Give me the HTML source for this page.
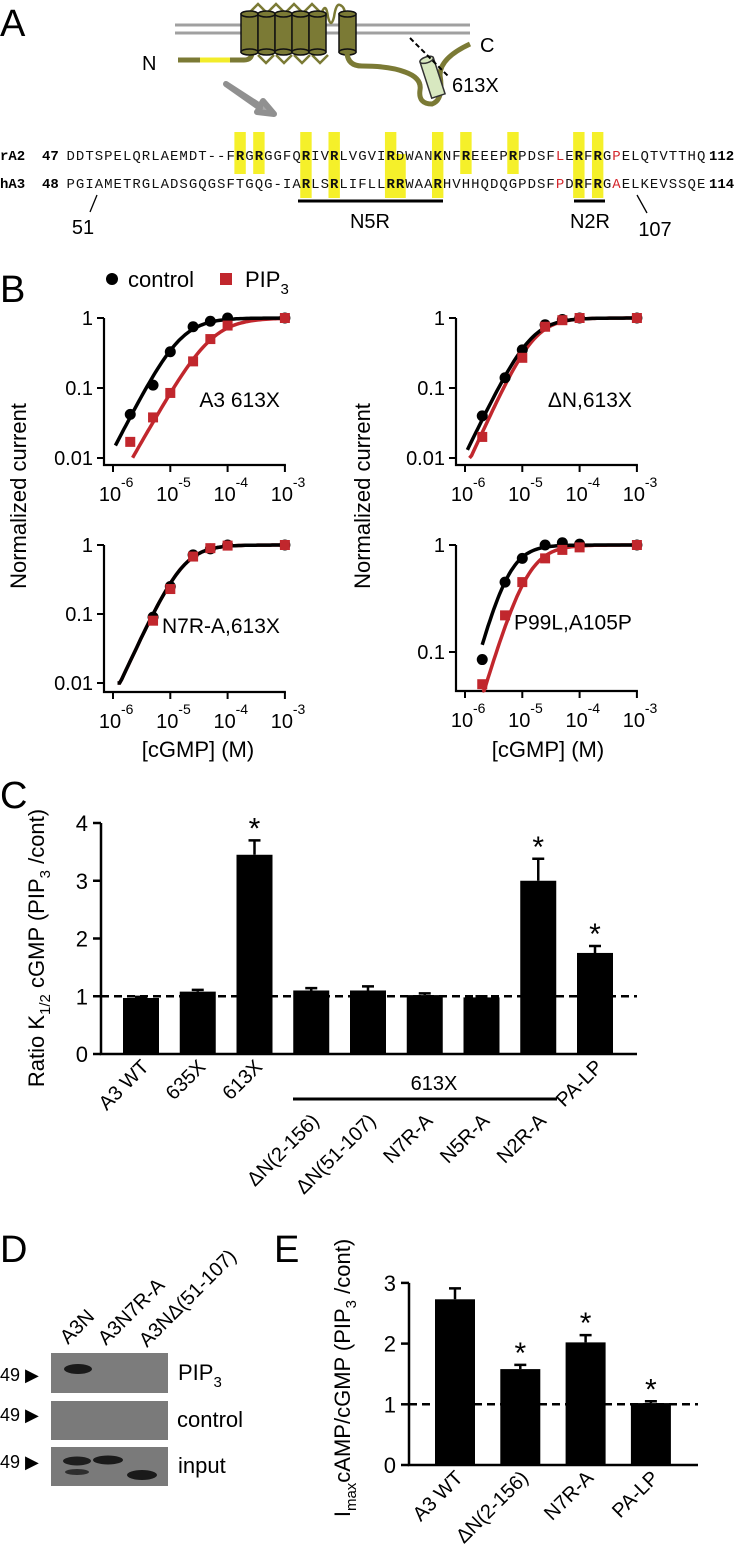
<!DOCTYPE html>
<html><head><meta charset="utf-8">
<style>
html,body{margin:0;padding:0;background:#fff;}
svg{display:block;font-family:"Liberation Sans",Arial,sans-serif;}
.seq{font-family:"Liberation Mono","DejaVu Sans Mono",monospace;font-size:14px;}
</style></head>
<body>
<svg id="fig" width="740" height="1565" viewBox="0 0 740 1565" xmlns="http://www.w3.org/2000/svg">
  <!-- Panel A -->
  <g>
    <text x="0" y="36" font-size="38">A</text>
    <line x1="175" y1="25" x2="470" y2="25" stroke="#a0a0a0" stroke-width="3"/>
    <line x1="175" y1="33" x2="470" y2="33" stroke="#a0a0a0" stroke-width="3"/>
    <path d="M178 60 L244 60 Q252 60 252 52" fill="none" stroke="#7b7a35" stroke-width="5"/>
    <line x1="200" y1="60" x2="230" y2="60" stroke="#f2ec2a" stroke-width="5"/>
    <path d="M258 55 l8 8 l8 -8 M276 55 l8 8 l8 -8 M294 55 l8 8 l8 -8 M312 55 l8 8 l8 -8 M250 12 l8 -8 l8 8 M268 12 l8 -8 l8 8 M286 12 l8 -8 l8 8 M304 12 l8 -8 l8 8 M322 12 q4 -10 6 5 q3 12 6 0 q2 -14 6 -12 q5 2 5 10" fill="none" stroke="#7b7a35" stroke-width="2.5"/>
    <g id="cyls"></g>
    <path d="M347 53 Q348 66 362 66 Q390 66 405 72 Q422 78 420 90 Q418 104 432 104 Q444 100 440 75 Q440 58 470 44" fill="none" stroke="#7b7a35" stroke-width="5"/>
    <g transform="translate(420,62) rotate(-18)">
      <rect x="0" y="0" width="14" height="38" fill="#d8e8c0" stroke="#333" stroke-width="1.5"/>
      <ellipse cx="7" cy="0" rx="7" ry="3" fill="#d8e8c0" stroke="#333" stroke-width="1.5"/>
    </g>
    <line x1="410" y1="38" x2="448" y2="76" stroke="#000" stroke-width="2" stroke-dasharray="5,3"/>
    <text x="142" y="70" font-size="20">N</text>
    <text x="480" y="52" font-size="20">C</text>
    <text x="452" y="92" font-size="20">613X</text>
    <path d="M226 84 L260 106 L263 101 L274 114 L257 112 L260 108 Z" fill="#a8a8a8" stroke="#909090" stroke-width="6" stroke-linejoin="round"/>
    <g id="seqs"></g>
    <line x1="298" y1="201" x2="443" y2="201" stroke="#000" stroke-width="3"/>
    <text x="370" y="228" font-size="20" text-anchor="middle">N5R</text>
    <line x1="574" y1="201" x2="605" y2="201" stroke="#000" stroke-width="3"/>
    <text x="590" y="228" font-size="20" text-anchor="middle">N2R</text>
    <line x1="97" y1="195" x2="90" y2="212" stroke="#000" stroke-width="1.3"/>
    <text x="83" y="234" font-size="20" text-anchor="middle">51</text>
    <line x1="637" y1="195" x2="647" y2="213" stroke="#000" stroke-width="1.3"/>
    <text x="655" y="236" font-size="20" text-anchor="middle">107</text>
  </g>

  <!-- Panel B -->
  <g>
    <text x="0" y="302" font-size="38">B</text>
    <circle cx="112" cy="279" r="6" fill="#000"/>
    <text x="128" y="287" font-size="22">control</text>
    <rect x="220" y="273" width="12" height="12" fill="#c1272d"/>
    <text x="245" y="287" font-size="22">PIP<tspan font-size="15" dy="7">3</tspan></text>
    <text transform="translate(26,496) rotate(-90)" font-size="22" text-anchor="middle">Normalized current</text>
    <text transform="translate(370,496) rotate(-90)" font-size="22" text-anchor="middle">Normalized current</text>
    <text x="198" y="757" font-size="22" text-anchor="middle">[cGMP] (M)</text>
    <text x="548" y="757" font-size="22" text-anchor="middle">[cGMP] (M)</text>
    <g id="bplots"></g>
  </g>

  <!-- Panel C -->
  <g>
    <text x="0" y="808" font-size="38">C</text>
    <text transform="translate(44,948) rotate(-90)" font-size="22" text-anchor="middle">Ratio K<tspan font-size="15" dy="6">1/2</tspan><tspan dy="-6"> cGMP (PIP</tspan><tspan font-size="15" dy="6">3</tspan><tspan dy="-6"> /cont)</tspan></text>
    <g id="cchart"></g>
    <line x1="293" y1="1099" x2="557" y2="1099" stroke="#000" stroke-width="3"/>
    <text x="434" y="1090" font-size="20" text-anchor="middle">613X</text>
  </g>

  <!-- Panel D -->
  <g>
    <text x="0" y="1262" font-size="38">D</text>
    <text transform="translate(68,1345) rotate(-45)" font-size="20">A3N</text>
    <text transform="translate(106,1346) rotate(-45)" font-size="20">A3N7R-A</text>
    <text transform="translate(147,1348) rotate(-45)" font-size="20">A3NΔ(51-107)</text>
    <rect x="51" y="1353" width="117" height="40" fill="#7c7c7c"/>
    <ellipse cx="78" cy="1369" rx="14" ry="5" fill="#1a1a1a"/>
    <rect x="51" y="1401" width="117" height="39" fill="#7a7a7a"/>
    <rect x="51" y="1447" width="117" height="39" fill="#7a7a7a"/>
    <ellipse cx="77" cy="1461" rx="14" ry="4.5" fill="#1e1e1e"/>
    <ellipse cx="77" cy="1472" rx="12" ry="3" fill="#2e2e2e"/>
    <ellipse cx="108" cy="1460" rx="15" ry="4.5" fill="#1a1a1a"/>
    <ellipse cx="142" cy="1475" rx="15" ry="5" fill="#1a1a1a"/>
    <text x="0" y="1381" font-size="18">49 ▶</text>
    <text x="0" y="1421" font-size="18">49 ▶</text>
    <text x="0" y="1468" font-size="18">49 ▶</text>
    <text x="178" y="1380" font-size="22">PIP<tspan font-size="15" dy="7">3</tspan></text>
    <text x="177" y="1427" font-size="22">control</text>
    <text x="178" y="1473" font-size="22">input</text>
  </g>

  <!-- Panel E -->
  <g>
    <text x="274" y="1262" font-size="38">E</text>
    <text transform="translate(350,1378) rotate(-90)" font-size="22" text-anchor="middle">I<tspan font-size="15" dy="6">max</tspan><tspan dy="-6">cAMP/cGMP (PIP</tspan><tspan font-size="15" dy="6">3</tspan><tspan dy="-6"> /cont)</tspan></text>
    <g id="echart"></g>
  </g>
</svg>

<script>
// ---------- Panel B data ----------
const concs = [2e-6, 5e-6, 1e-5, 2.5e-5, 5e-5, 1e-4, 1e-3];
const plotNames = ["A3 613X", "ΔN,613X", "N7R-A,613X", "P99L,A105P"];
const ctrlA3 = [0.042, 0.11, 0.33, 0.75, 0.9, 1.0, 1.0];
const pipA3 = [0.017, 0.038, 0.085, 0.24, 0.5, 0.78, 1.0];
const ctrlDN = [0.04, 0.14, 0.35, 0.8, 0.95, 1.0, 1.0];
const pipDN = [0.02, null, 0.27, 0.75, 0.93, 1.0, 1.0];
const ctrlN7 = [null, 0.09, 0.25, 0.72, 0.88, 1.0, 1.0];
const pipN7 = [null, 0.08, 0.23, 0.68, 0.9, 0.98, 1.0];
const ctrlPA = [0.085, 0.45, 0.75, 1.0, 1.05, 1.02, 1.0];
const pipPA = [0.05, 0.22, 0.45, 0.75, 0.9, 0.95, 1.0];
const fitK = [[1.5e-5, 5.2e-5], [1.4e-5, 1.6e-5], [1.7e-5, 1.7e-5], [5.5e-6, 1.2e-5]];
const fitN = [[1.6, 1.45], [1.7, 1.8], [1.8, 1.8], [2.0, 1.8]];
const fitStart = [[1.1e-6, 2.2e-6], [1.1e-6, 1.2e-6], [1.2e-6, 1.2e-6], [2.0e-6, 2.0e-6]];
const xTickExp = [-6, -5, -4, -3];
const yTicksLog = [["1", "0.1", "0.01"], ["1", "0.1", "0.01"], ["1", "0.1", "0.01"], ["1", "0.1"]];
const yMinVals = [0.01, 0.01, 0.01, 0.043];

// ---------- Panel C data ----------
const cCats = ["A3 WT", "635X", "613X", "ΔN(2-156)", "ΔN(51-107)", "N7R-A", "N5R-A", "N2R-A", "PA-LP"];
const cVals = [0.97, 1.08, 3.45, 1.1, 1.1, 1.02, 0.98, 3.0, 1.75];
const cErr = [0.02, 0.03, 0.25, 0.04, 0.07, 0.03, 0.02, 0.38, 0.12];
const cStar = [false, false, true, false, false, false, false, true, true];
const cGrouped = [false, false, false, true, true, true, true, true, false];
const cTicks = [0, 1, 2, 3, 4];

// ---------- Panel E data ----------
const eCats = ["A3 WT", "ΔN(2-156)", "N7R-A", "PA-LP"];
const eVals = [2.73, 1.58, 2.02, 1.02];
const eErr = [0.18, 0.07, 0.12, 0.03];
const eStar = [false, true, true, true];
const eGrouped = [false, false, false, false];
const eTicks = [0, 1, 2, 3];

// ---------- Sequences ----------
const seqRA2 = "DDTSPELQRLAEMDT--FRGRGGFQRIVRLVGVIRDWANKNFREEEPRPDSFLERFRGPELQTVTTHQ";
const seqHA3 = "PGIAMETRGLADSGQGSFTGQG-IARLSRLIFLLRRWAARHVHHQDQGPDSFPDRFRGAELKEVSSQE";
const hlRA2 = [18, 20, 25, 28, 34, 39, 42, 47, 54, 56];
const hlHA3 = [25, 28, 34, 35, 39, 54, 56];
const redRA2 = [52, 58];
const redHA3 = [52, 58];

const NS = "http://www.w3.org/2000/svg";
function mk(tag, attrs, parent) {
  const e = document.createElementNS(NS, tag);
  for (const k in attrs) e.setAttribute(k, attrs[k]);
  parent.appendChild(e);
  return e;
}

// cylinders
(function () {
  const g = document.getElementById('cyls');
  const xs = [241, 258, 275, 292, 309, 339];
  xs.forEach((x, i) => {
    const grp = mk('g', {}, g);
    
    
    mk('rect', { x: x, y: 14, width: 17, height: 38, fill: '#7b7a35', stroke: '#111', 'stroke-width': 1.5 }, grp);
    mk('ellipse', { cx: x + 8.5, cy: 52, rx: 8.5, ry: 3, fill: '#7b7a35', stroke: '#111', 'stroke-width': 1.5 }, grp);
    mk('ellipse', { cx: x + 8.5, cy: 14, rx: 8.5, ry: 3, fill: '#7b7a35', stroke: '#111', 'stroke-width': 1.5 }, grp);
  });
})();

// sequences
(function () {
  const g = document.getElementById('seqs');
  const x0 = 66, cw = 9.41, yR = 160, yH = 188;
  function col(i) { return x0 + i * cw; }
  hlRA2.forEach(i => {
    const both = hlHA3.indexOf(i) >= 0;
    const r = mk('rect', { x: col(i) - 1, y: 132, width: cw + 2, height: both ? 66 : 42, fill: '#f5f02a' }, g);
    
    
  });
  hlHA3.forEach(i => {
    if (hlRA2.indexOf(i) >= 0) return;
    const r = mk('rect', { x: col(i) - 1, y: 154, width: cw + 2, height: 44, fill: '#f5f02a' }, g);
    
    
  });
  function row(seq, y, hl, red, name, label, num1, num2) {
    const t = mk('text', { x: 0, y: y, 'font-weight': 'bold', class: 'seq' }, g);
    t.textContent = label;
    
    
    const n1 = mk('text', { x: 42, y: y, 'font-weight': 'bold', class: 'seq' }, g);
    n1.textContent = num1;
    
    
    for (let i = 0; i < seq.length; i++) {
      const c = mk('text', { x: col(i) + cw / 2, y: y, class: 'seq', 'text-anchor': 'middle' }, g);
      if (hl.indexOf(i) >= 0) c.setAttribute('font-weight', 'bold');
      c.setAttribute('fill', red.indexOf(i) >= 0 ? '#d4262c' : '#111');
      c.textContent = seq[i];
      
      
    }
    const n2 = mk('text', { x: 709, y: y, 'font-weight': 'bold', class: 'seq' }, g);
    n2.textContent = num2;
    
    
  }
  row(seqRA2, yR, hlRA2, redRA2, 'ra2-seq', 'rA2', '47', '112');
  row(seqHA3, yH, hlHA3, redHA3, 'ha3-seq', 'hA3', '48', '114');
})();

// Panel B plots
(function () {
  const root = document.getElementById('bplots');
  const ctrlSets = [ctrlA3, ctrlDN, ctrlN7, ctrlPA];
  const pipSets = [pipA3, pipDN, pipN7, pipPA];
  const geo = [
    { ax: 104, x6: 113, top: 318, dec: 70, base: 465 },
    { ax: 456, x6: 465, top: 318, dec: 70, base: 465 },
    { ax: 104, x6: 113, top: 545, dec: 69, base: 692 },
    { ax: 456, x6: 465, top: 545, dec: 107, base: 691 }
  ];
  const slugs = ['a3-613x', 'dn-613x', 'n7r-613x', 'p99l-a105p'];
  for (let p = 0; p < 4; p++) {
    const G = geo[p];
    const xs = c => G.x6 + 57.3 * (Math.log10(c) + 6);
    const ys = v => G.top - G.dec * Math.log10(v);
    const g = mk('g', {}, root);
    
    
    const xEnd = xs(1e-3) + 1;
    const ax = mk('path', { d: `M${G.ax} ${G.top} L${G.ax} ${G.base} L${xEnd} ${G.base}`, fill: 'none', stroke: '#000', 'stroke-width': 2.2 }, g);
    
    
    yTicksLog[p].forEach(lbl => {
      const y = ys(parseFloat(lbl));
      const tk = mk('line', { x1: G.ax - 7, y1: y, x2: G.ax, y2: y, stroke: '#000', 'stroke-width': 2 }, g);
      
      
      const t = mk('text', { x: G.ax - 11, y: y + 7, 'font-size': 20, 'text-anchor': 'end' }, g);
      t.textContent = lbl;
      
      
    });
    xTickExp.forEach(e => {
      const x = xs(Math.pow(10, e));
      const tk = mk('line', { x1: x, y1: G.base, x2: x, y2: G.base + 7, stroke: '#000', 'stroke-width': 2 }, g);
      
      
      const t = mk('text', { x: x - 3, y: G.base + 36, 'font-size': 20, 'text-anchor': 'middle' }, g);
      t.textContent = '10';
      
      
      const s = mk('text', { x: x + 8, y: G.base + 22, 'font-size': 14 }, g);
      s.textContent = String(e);
      
      
    });
    const nm = mk('text', { x: xs(1e-3) - 5, y: G.top + 1.2 * G.dec * (p === 3 ? 0.62 : 1) + 5, 'font-size': 21, 'text-anchor': 'end' }, g);
    nm.textContent = plotNames[p];
    
    
    const cols = ['#000', '#c1272d'];
    [1, 0].forEach(s => {
      let d = '';
      const K = fitK[p][s], n = fitN[p][s];
      const l0 = Math.log10(fitStart[p][s]);
      for (let k = 0; k <= 80; k++) {
        const lc = l0 + (-3 - l0) * k / 80;
        const c = Math.pow(10, lc);
        const v = Math.pow(c, n) / (Math.pow(c, n) + Math.pow(K, n));
        d += (k ? 'L' : 'M') + xs(c).toFixed(1) + ' ' + ys(Math.max(v, yMinVals[p])).toFixed(1);
      }
      const path = mk('path', { d: d, fill: 'none', stroke: cols[s], 'stroke-width': 3.5 }, g);
      
      
    });
    ctrlSets[p].forEach((v, i) => {
      if (v == null) return;
      const c = mk('circle', { cx: xs(concs[i]), cy: ys(v), r: 5.5, fill: '#000' }, g);
      
      
    });
    pipSets[p].forEach((v, i) => {
      if (v == null) return;
      const r = mk('rect', { x: xs(concs[i]) - 5, y: ys(v) - 5, width: 10, height: 10, fill: '#c1272d' }, g);
      
      
    });
  }
})();

// Bar chart helper
function barChart(rootId, cats, vals, errs, stars, grouped, ticks, G, prefix) {
  const root = document.getElementById(rootId);
  const ys = v => G.y0 - v * G.unit;
  const xs = i => G.first + i * G.step;
  const ax = mk('path', { d: `M${G.ax} ${ys(ticks[ticks.length - 1])} L${G.ax} ${G.y0} L${G.xEnd} ${G.y0}`, fill: 'none', stroke: '#000', 'stroke-width': 2.5 }, root);
  
  
  ticks.forEach(t => {
    const tk = mk('line', { x1: G.ax - 8, y1: ys(t), x2: G.ax, y2: ys(t), stroke: '#000', 'stroke-width': 2.5 }, root);
    
    
    const tl = mk('text', { x: G.ax - 13, y: ys(t) + 8, 'font-size': 22, 'text-anchor': 'end' }, root);
    tl.textContent = String(t);
    
    
  });
  vals.forEach((v, i) => {
    const x = xs(i);
    const top = ys(v + errs[i]);
    const el = mk('path', { d: `M${x} ${ys(v)} L${x} ${top} M${x - 6} ${top} L${x + 6} ${top}`, stroke: '#000', 'stroke-width': 2.5 }, root);
    
    
    const b = mk('rect', { x: x - G.bw / 2, y: ys(v), width: G.bw, height: G.y0 - ys(v), fill: '#000' }, root);
    
    
    if (stars[i]) {
      const s = mk('text', { x: x, y: top - 2, 'font-size': 30, 'text-anchor': 'middle' }, root);
      s.textContent = '*';
      
      
    }
    const dy = grouped[i] ? G.drop : 0;
    const lab = mk('text', { transform: `translate(${x + 9},${G.y0 + 14 + dy}) rotate(-45)`, 'font-size': 20, 'text-anchor': 'end' }, root);
    lab.textContent = cats[i];
    
    
  });
  const dl = mk('line', { x1: G.ax, y1: ys(1), x2: G.xEnd, y2: ys(1), stroke: '#000', 'stroke-width': 2.5, 'stroke-dasharray': '8,5' }, root);
  
  
}
barChart('cchart', cCats, cVals, cErr, cStar, cGrouped, cTicks, { ax: 101, y0: 1054, unit: 57.75, xEnd: 637, first: 141, step: 56.75, bw: 36, drop: 54 }, 'ratio-chart');
barChart('echart', eCats, eVals, eErr, eStar, eGrouped, eTicks, { ax: 409, y0: 1465, unit: 60.7, xEnd: 698, first: 455, step: 65.3, bw: 40, drop: 0 }, 'imax-chart');
</script>
</body></html>
